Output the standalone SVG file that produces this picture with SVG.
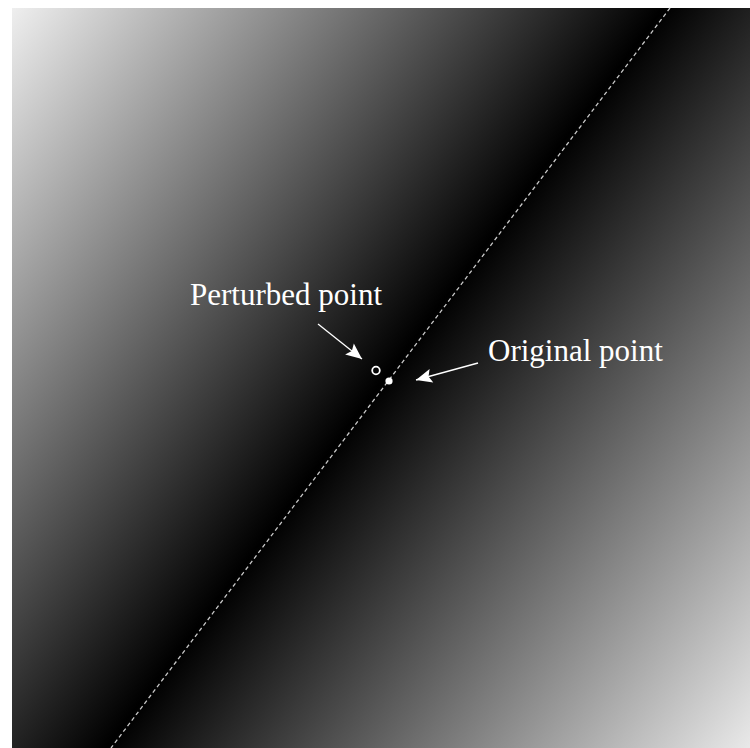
<svg xmlns="http://www.w3.org/2000/svg" width="750" height="748" viewBox="0 0 750 748">
  <defs>
    <linearGradient id="field" gradientUnits="userSpaceOnUse" x1="-58" y1="41" x2="836" y2="715">
      <stop offset="0" stop-color="#ffffff"/>
      <stop offset="0.497" stop-color="#000000"/>
      <stop offset="1" stop-color="#ffffff"/>
    </linearGradient>
    <marker id="head" viewBox="0 0 10 10" refX="10" refY="5" markerWidth="10" markerHeight="10" markerUnits="userSpaceOnUse" orient="auto" overflow="visible">
      <path d="M -6 -2 L 10 5 L -6 12 L -3 5 Z" fill="#ffffff"/>
    </marker>
    <style>
      .lbl { font-family: "Liberation Serif", "Times New Roman", serif; font-size: 31px; fill: #ffffff; }
      .arrow { stroke: #ffffff; stroke-width: 1.3; fill: none; }
    </style>
  </defs>
  <rect x="0" y="0" width="750" height="748" fill="#ffffff"/>
  <rect id="field-area" x="12" y="8" width="738" height="740" fill="url(#field)"/>
  <g id="connectors">
    <line id="boundary" x1="670" y1="8" x2="111" y2="748" stroke="#c8c8c8" stroke-width="1.3" stroke-dasharray="4,3"/>
    <line class="arrow" x1="318" y1="324" x2="362" y2="359" marker-end="url(#head)"/>
    <line class="arrow" x1="478" y1="363" x2="416" y2="380" marker-end="url(#head)"/>
  </g>
  <g id="perturbed">
    <circle cx="376" cy="370.5" r="3.8" fill="none" stroke="#ffffff" stroke-width="1.8"/>
    <text class="lbl" x="190" y="305">Perturbed point</text>
  </g>
  <g id="original">
    <circle cx="389" cy="381" r="3.6" fill="#ffffff"/>
    <text class="lbl" x="488" y="361">Original point</text>
  </g>
</svg>
